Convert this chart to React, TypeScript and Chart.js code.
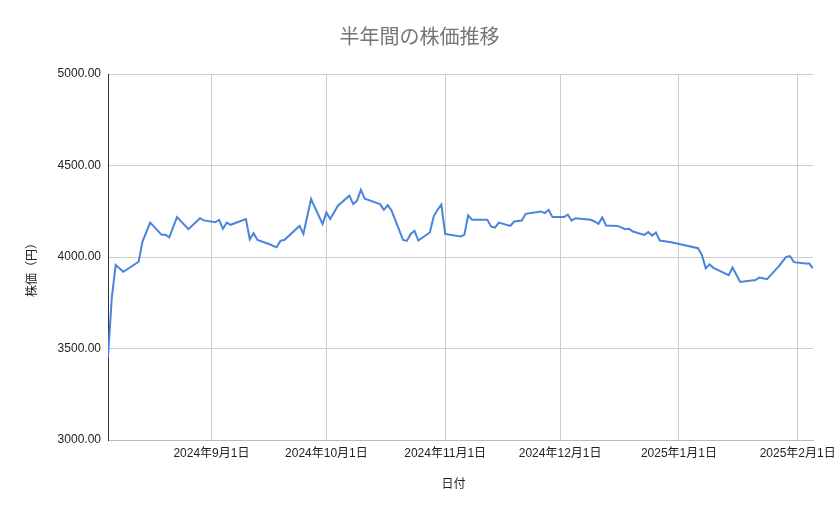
import React, { useEffect, useRef } from "react";
import { Chart, registerables } from "chart.js";

Chart.register(...registerables);

// ---- data ----
const chartTitle = "半年間の株価推移";
const xAxisTitle = "日付";
const yAxisTitle = "株価（円）";

// trading days, counted in days from 2024-08-05
const dayOffsets = [
  0, 1, 2, 4, 8, 9, 11, 14, 15, 16, 18, 21, 24, 25, 28, 29, 30, 31, 32, 36,
  37, 38, 39, 42, 44, 45, 46, 50, 51, 53, 56, 57, 58, 60, 63, 64, 65, 66, 67, 71,
  72, 73, 74, 77, 78, 79, 80, 81, 84, 85, 86, 87, 88, 92, 93, 94, 95, 99, 100, 101,
  102, 105, 106, 108, 109, 113, 114, 115, 116, 119, 120, 121, 122, 126, 127, 128, 129, 130, 133, 135,
  136, 137, 140, 141, 142, 143, 144, 147, 154, 155, 156, 157, 158, 162, 163, 165, 169, 170, 172, 175,
  177, 178, 179, 182, 183, 184,
];

const prices = [
  3452, 3780, 3956, 3919, 3974, 4084, 4188, 4121, 4121, 4108, 4218, 4152, 4212, 4200, 4190, 4203, 4154, 4188, 4176, 4207,
  4097, 4130, 4093, 4071, 4053, 4088, 4093, 4170, 4126, 4317, 4180, 4243, 4207, 4280, 4335, 4289, 4308, 4368, 4319, 4289,
  4258, 4283, 4254, 4093, 4088, 4126, 4143, 4090, 4134, 4221, 4258, 4286, 4126, 4112, 4121, 4227, 4203, 4203, 4166, 4161,
  4188, 4170, 4194, 4199, 4236, 4249, 4240, 4258, 4218, 4218, 4231, 4199, 4212, 4203, 4194, 4181, 4216, 4172, 4170, 4152,
  4154, 4139, 4121, 4136, 4117, 4134, 4090, 4081, 4048, 4011, 3938, 3960, 3941, 3901, 3943, 3864, 3874, 3888, 3879, 3947,
  4000, 4005, 3972, 3965, 3965, 3938,
];

const xMin = 0;
const xMax = 184;
const monthTickDays = [27, 57, 88, 118, 149, 180];
const monthTickLabels = [
  "2024年9月1日",
  "2024年10月1日",
  "2024年11月1日",
  "2024年12月1日",
  "2025年1月1日",
  "2025年2月1日",
];

const yMin = 3000;
const yMax = 5000;
const yStep = 500;

const FONT = "'Liberation Sans', 'Noto Sans CJK JP', sans-serif";

const axisTitlePlugin = {
  id: "axisTitles",
  afterDraw(chart: any) {
    const ctx = chart.ctx;
    const area = chart.chartArea;
    ctx.save();
    ctx.fillStyle = "#222222";
    ctx.font = `12px ${FONT}`;
    ctx.textAlign = "center";
    ctx.textBaseline = "middle";
    ctx.fillText(xAxisTitle, (area.left + area.right) / 2 - 7, 485);
    ctx.translate(33, (area.top + area.bottom) / 2 + 10);
    ctx.rotate(-Math.PI / 2);
    ctx.fillText(yAxisTitle, 0, 0);
    ctx.restore();
  },
};

export default function App() {
  const canvasRef = useRef<HTMLCanvasElement | null>(null);

  useEffect(() => {
    const canvas = canvasRef.current;
    if (!canvas) return;
    const points = dayOffsets.map((d, i) => ({ x: d, y: prices[i] }));
    const chart = new Chart(canvas, {
      type: "line",
      data: {
        datasets: [
          {
            label: "株価",
            data: points,
            borderColor: "#4a84dc",
            borderWidth: 2,
            pointRadius: 0,
            pointHoverRadius: 0,
            tension: 0,
            fill: false,
          },
        ],
      },
      options: {
        animation: false,
        responsive: false,
        maintainAspectRatio: false,
        devicePixelRatio: 1,
        layout: { padding: 0 },
        plugins: {
          legend: { display: false },
          tooltip: { enabled: false },
          title: {
            display: true,
            text: chartTitle,
            color: "#757575",
            font: { family: FONT, size: 20, weight: "normal" as any },
            padding: { top: 26, bottom: 24 },
          },
        },
        scales: {
          x: {
            type: "linear",
            min: xMin,
            max: xMax,
            afterBuildTicks: (scale: any) => {
              scale.ticks = monthTickDays.map((v) => ({ value: v }));
            },
            afterFit: (scale: any) => {
              scale.height = 79;
              scale.paddingLeft = 0;
              scale.paddingRight = 26;
            },
            ticks: {
              autoSkip: false,
              maxRotation: 0,
              minRotation: 0,
              padding: 6,
              color: "#222222",
              font: { family: FONT, size: 12 },
              callback: (value: any) => {
                const idx = monthTickDays.indexOf(Number(value));
                return idx >= 0 ? monthTickLabels[idx] : "";
              },
            },
            grid: { color: "#cccccc", lineWidth: 1, drawTicks: false },
            border: { display: true, color: "#bbbbbb", width: 1 },
          },
          y: {
            type: "linear",
            min: yMin,
            max: yMax,
            afterFit: (scale: any) => {
              scale.width = 108;
            },
            ticks: {
              stepSize: yStep,
              padding: 7,
              color: "#222222",
              font: { family: FONT, size: 12 },
              callback: (value: any) => Number(value).toFixed(2),
            },
            grid: { color: "#cccccc", lineWidth: 1, drawTicks: false },
            border: { display: true, color: "#333333", width: 1 },
          },
        },
      },
      plugins: [axisTitlePlugin],
    });
    return () => chart.destroy();
  }, []);

  return (
    <div style={{ position: "fixed", left: 0, top: 0, width: 839, height: 519, background: "#ffffff" }}>
      <canvas ref={canvasRef} width={839} height={519} style={{ width: 839, height: 519, display: "block" }} />
    </div>
  );
}
